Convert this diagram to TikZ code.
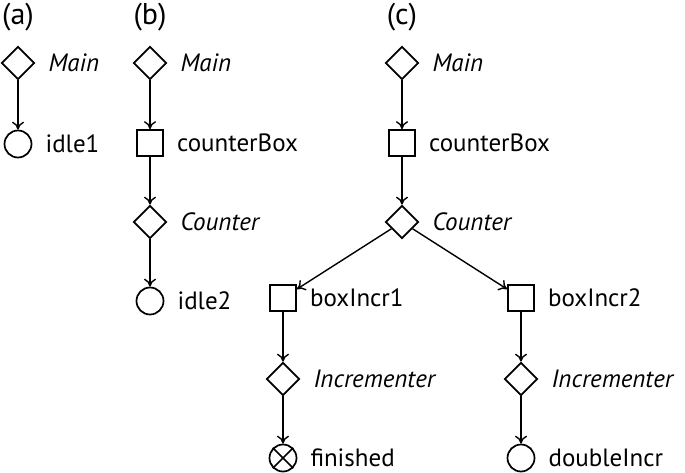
\documentclass[tikz,border=0pt]{standalone}
\usepackage{fontspec}
\setmainfont{PT Sans}
\usetikzlibrary{shapes.geometric,arrows.meta}

\tikzset{
  proc/.style={diamond, draw, line width=1.7pt, minimum width=33pt, minimum height=33pt, inner sep=0pt, aspect=1},
  box/.style={rectangle, draw, line width=1.7pt, minimum size=26pt, inner sep=0pt},
  leaf/.style={circle, draw, line width=1.7pt, minimum size=27pt, inner sep=0pt},
  boxtext/.style={font=\fontsize{25}{28}\selectfont, inner sep=0pt, label distance=13pt},
  proctext/.style={font=\fontsize{25}{28}\selectfont\itshape, inner sep=0pt, label distance=13pt},
  flow/.style={-{To[length=8pt,width=12pt]}, line width=1.4pt},
  part/.style={font=\fontsize{30}{34}\selectfont, inner sep=0pt}
}

\begin{document}
\begin{tikzpicture}[x=1pt, y=-1pt]
			%%%%% START %%%%%
			\useasboundingbox (0, 0) rectangle (685, 473);
			
			\node[part] (la) at (18, 17) {(a)};
			\node[part] (lb) at (150, 17) {(b)};
			\node[part] (lc) at (402, 17) {(c)};
			
			% (a)
			\node[proc, label={[proctext]right:Main}] (mainA) at (18, 63) {};
			\node[leaf, label={[boxtext]right:idle1}] (idleA) at (18, 144) {};
			\draw[flow] (mainA) -- (idleA);
			
			% (b)
			\node[proc, label={[proctext]right:Main}] (mainB) at (150, 63) {};
			\node[box, label={[boxtext]right:counterBox}] (cboxB) at (150, 143) {};
			\node[proc, label={[proctext]right:Counter}] (countB) at (150, 222) {};
			\node[leaf, label={[boxtext]right:idle2}] (idleB) at (150, 301) {};
			\draw[flow] (mainB) -- (cboxB);
			\draw[flow] (cboxB) -- (countB);
			\draw[flow] (countB) -- (idleB);
			
			% (c)
			\node[proc, label={[proctext]right:Main}] (mainC) at (402, 63) {};
			\node[box, label={[boxtext]right:counterBox}] (cboxC) at (402, 143) {};
			\node[proc, label={[proctext]right:Counter}] (countC) at (402, 222) {};
			\node[box, label={[boxtext]right:boxIncr1}] (incrL) at (283, 298) {};
			\node[box, label={[boxtext]right:boxIncr2}] (incrR) at (521, 298) {};
			\node[proc, label={[proctext]right:Incrementer}] (incL) at (283, 379) {};
			\node[proc, label={[proctext]right:Incrementer}] (incR) at (521, 379) {};
			\node[leaf, label={[boxtext]right:finished}] (fin) at (283, 458) {};
			\node[leaf, label={[boxtext]right:doubleIncr}] (dbl) at (521, 458) {};
			\draw[line width=1.7pt] (fin.45) -- (fin.225);
			\draw[line width=1.7pt] (fin.135) -- (fin.315);
			
			\draw[flow] (mainC) -- (cboxC);
			\draw[flow] (cboxC) -- (countC);
			\draw[flow] (countC) -- (incrL);
			\draw[flow] (countC) -- (incrR);
			\draw[flow] (incrL) -- (incL);
			\draw[flow] (incrR) -- (incR);
			\draw[flow] (incL) -- (fin);
			\draw[flow] (incR) -- (dbl);
			%%%%% END %%%%%
\end{tikzpicture}
\end{document}
